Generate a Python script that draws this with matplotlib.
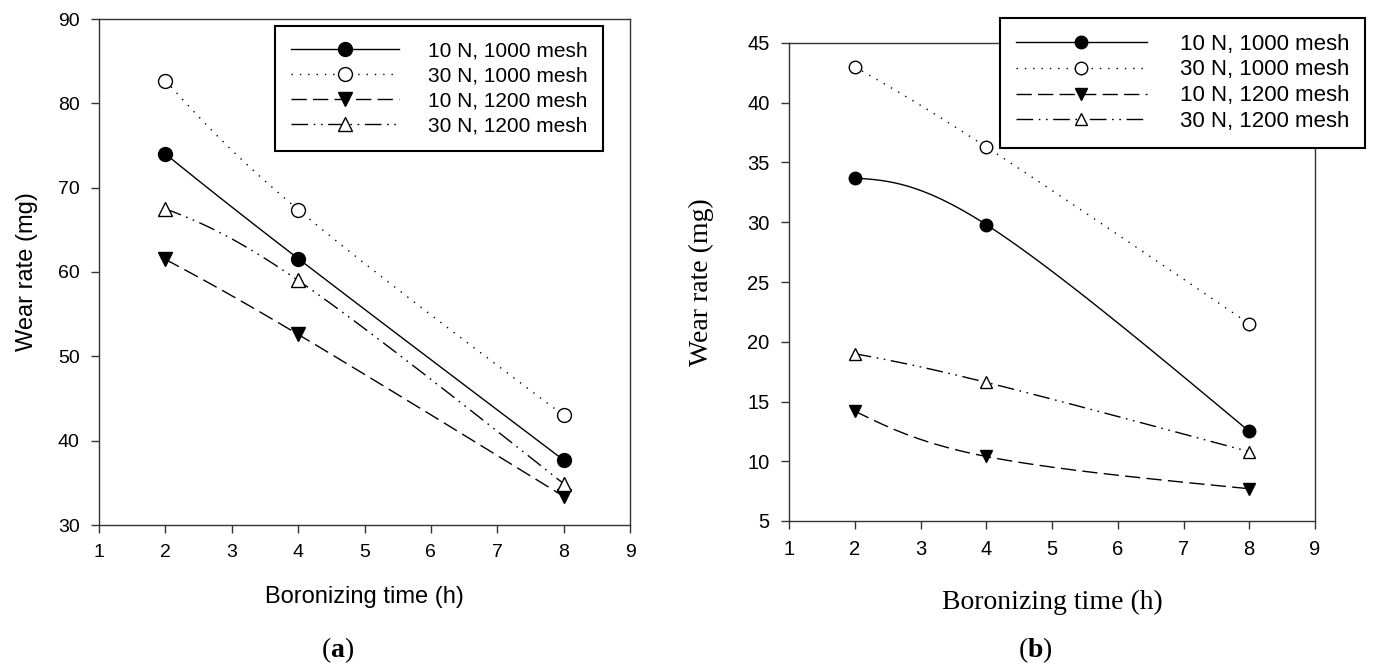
import numpy as np
import matplotlib
matplotlib.use("Agg")
import matplotlib.pyplot as plt

# ---------------- data ----------------
time_h = [2, 4, 8]
labels = ["10 N, 1000 mesh", "30 N, 1000 mesh", "10 N, 1200 mesh", "30 N, 1200 mesh"]

# (a)
a_10N_1000 = [74.0, 61.6, 37.7]
a_30N_1000 = [82.7, 67.4, 43.0]
a_10N_1200 = [61.5, 52.6, 33.4]
a_30N_1200 = [67.5, 59.0, 34.9]

# (b)
b_10N_1000 = [33.7, 29.8, 12.5]
b_30N_1000 = [43.0, 36.3, 21.5]
b_10N_1200 = [14.2, 10.4, 7.7]
b_30N_1200 = [19.0, 16.6, 10.8]

xticks = [1, 2, 3, 4, 5, 6, 7, 8, 9]
a_yticks = [30, 40, 50, 60, 70, 80, 90]
b_yticks = [5, 10, 15, 20, 25, 30, 35, 40, 45]

# ---------------- styles ----------------
styles = [
    dict(linestyle="-", marker="o", mfc="black", mec="black"),
    dict(linestyle=(0, (1.0, 5.0)), marker="o", mfc="white", mec="black"),
    dict(linestyle=(0, (11, 4.5)), marker="v", mfc="black", mec="black"),
    dict(linestyle=(0, (12, 4, 1.2, 4, 1.2, 4)), marker="^", mfc="white", mec="black"),
]

SANS = "Liberation Sans"
SERIF = "Liberation Serif"
plt.rcParams["font.family"] = SANS


def spline(xs, ys, n=60):
    """Parametric Catmull-Rom style cubic with natural end tangents.
    Returns curve points and indices of the original points."""
    P = np.column_stack([np.asarray(xs, float), np.asarray(ys, float)])
    m = np.zeros_like(P)
    m[1:-1] = (P[2:] - P[:-2]) / 2.0
    m[0] = 1.5 * (P[1] - P[0]) - m[1] / 2.0
    m[-1] = 1.5 * (P[-1] - P[-2]) - m[-2] / 2.0
    pts = []
    idx = []
    t = np.linspace(0, 1, n, endpoint=False)
    h00 = 2 * t**3 - 3 * t**2 + 1
    h10 = t**3 - 2 * t**2 + t
    h01 = -2 * t**3 + 3 * t**2
    h11 = t**3 - t**2
    for i in range(len(P) - 1):
        seg = (h00[:, None] * P[i] + h10[:, None] * m[i]
               + h01[:, None] * P[i + 1] + h11[:, None] * m[i + 1])
        idx.append(len(pts))
        pts.extend(seg.tolist())
    idx.append(len(pts))
    pts.append(P[-1].tolist())
    pts = np.array(pts)
    return pts[:, 0], pts[:, 1], idx


fig = plt.figure(figsize=(13.73, 6.66), dpi=100)
W, H = 1373.0, 666.0

axA = fig.add_axes([99 / W, 1 - 525 / H, (630 - 99) / W, (525 - 19) / H])
axB = fig.add_axes([789 / W, 1 - 521 / H, (1315 - 789) / W, (521 - 43) / H])

spine_col = "#333333"


def setup(ax, yticks, ylim, tickfs):
    ax.set_xlim(1, 9)
    ax.set_ylim(*ylim)
    ax.set_xticks(xticks)
    ax.set_yticks(yticks)
    for s in ax.spines.values():
        s.set_color(spine_col)
        s.set_linewidth(1.0)
    ax.tick_params(direction="out", length=6, width=1.0, color=spine_col,
                   pad=8, labelsize=tickfs, top=False, right=False)
    for lab in ax.get_xticklabels() + ax.get_yticklabels():
        lab.set_fontfamily(SANS)


def draw(ax, series, ms):
    for ys, lab, st in zip(series, labels, styles):
        cx, cy, idx = spline(time_h, ys)
        ax.plot(cx, cy, color="black", lw=1.0, markevery=idx, ms=ms,
                mew=1.0, label=lab, **st)


draw(axA, [a_10N_1000, a_30N_1000, a_10N_1200, a_30N_1200], 10)
draw(axB, [b_10N_1000, b_30N_1000, b_10N_1200, b_30N_1200], 9)

setup(axA, a_yticks, (30, 90), 14)
setup(axB, b_yticks, (5, 45), 14.5)

axA.set_xlabel("Boronizing time (h)", fontsize=17, family=SANS, labelpad=18)
axA.set_ylabel("Wear rate (mg)", fontsize=17, family=SANS, labelpad=14)
axB.set_xlabel("Boronizing time (h)", fontsize=20, family=SERIF, labelpad=22)
axB.set_ylabel("Wear rate (mg)", fontsize=20, family=SERIF, labelpad=24)

legA = axA.legend(loc="upper left", bbox_to_anchor=(275 / W, 1 - 26 / H),
                  bbox_transform=fig.transFigure, borderaxespad=0,
                  prop=dict(family=SANS, size=15), numpoints=1,
                  handlelength=5.2, handletextpad=1.4, labelspacing=0.28,
                  borderpad=0.75, fancybox=False, framealpha=1,
                  edgecolor="black")
legA.get_frame().set_linewidth(1.5)

legB = axB.legend(loc="upper left", bbox_to_anchor=(1000 / W, 1 - 18 / H),
                  bbox_transform=fig.transFigure, borderaxespad=0,
                  prop=dict(family=SANS, size=16), numpoints=1,
                  handlelength=5.9, handletextpad=1.5, labelspacing=0.22,
                  borderpad=0.7, fancybox=False, framealpha=1,
                  edgecolor="black")
legB.get_frame().set_linewidth(1.5)

plt.rcParams["mathtext.fontset"] = "custom"
plt.rcParams["mathtext.bf"] = "Liberation Serif:bold"
plt.rcParams["mathtext.rm"] = "Liberation Serif"
fig.text(338 / W, 1 - 650 / H, r"($\mathbf{a}$)", ha="center", va="center",
         fontsize=20, family=SERIF)
fig.text(1035 / W, 1 - 650 / H, r"($\mathbf{b}$)", ha="center", va="center",
         fontsize=20, family=SERIF)

fig.savefig("out.png", dpi=100)
